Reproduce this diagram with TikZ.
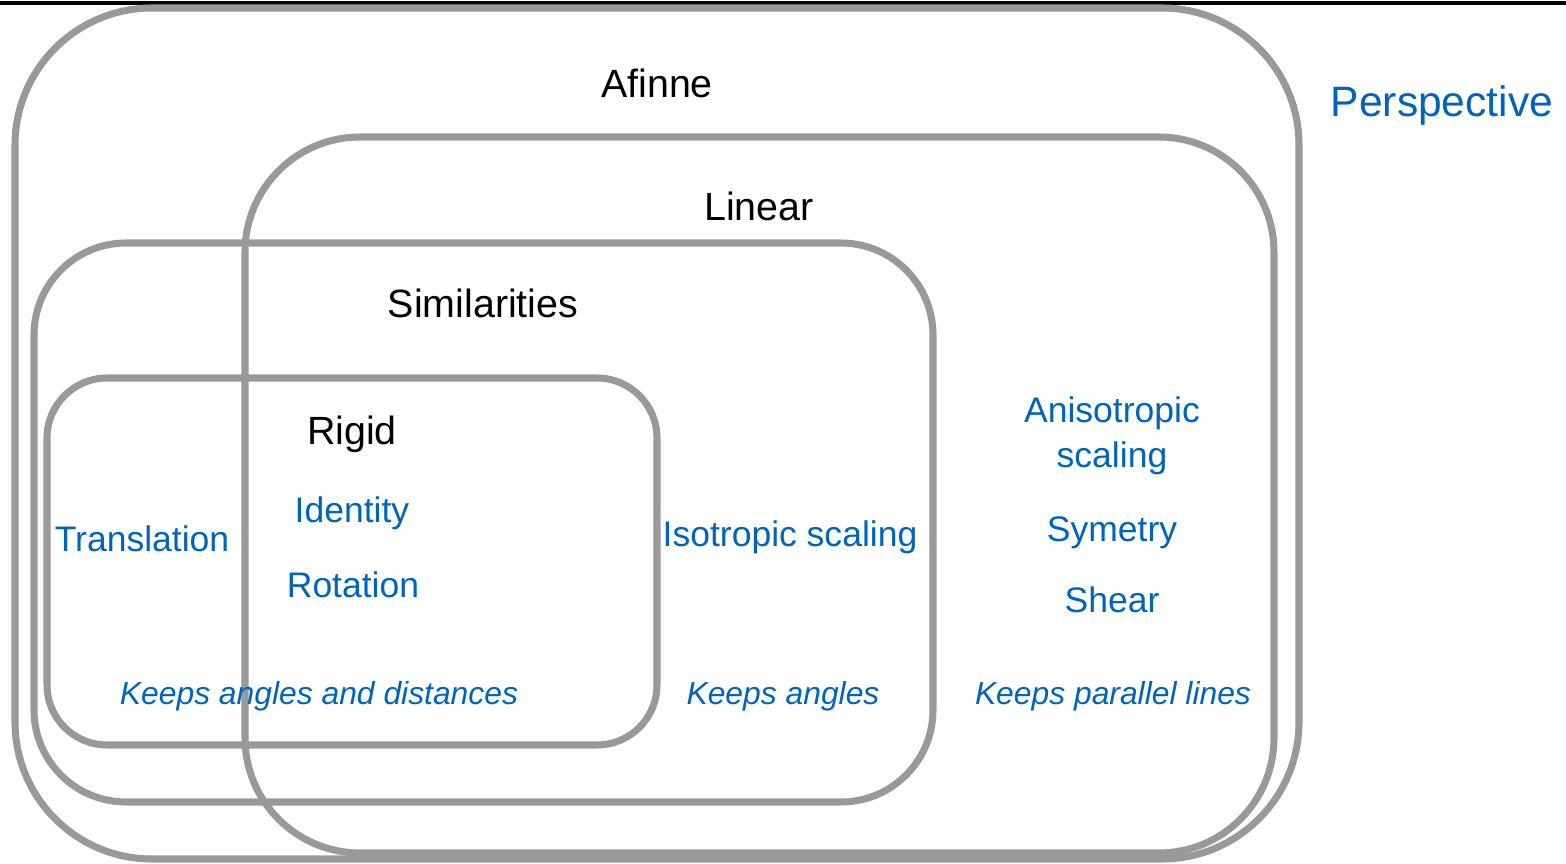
\documentclass[tikz,border=0pt]{standalone}
\usepackage{fontspec}
\setmainfont{Liberation Sans}
\usepackage{xcolor}
\definecolor{boxgray}{RGB}{153,153,153}
\definecolor{itemblue}{RGB}{0,99,188}

\begin{document}
\begin{tikzpicture}[x=0.01cm, y=-0.01cm,
	box/.style={draw=boxgray, line width=2pt},
	title/.style={anchor=base, font=\fontsize{11.2}{13}\selectfont},
	item/.style={anchor=base, text=itemblue, font=\fontsize{10.1}{12.8}\selectfont},
	note/.style={anchor=base, text=itemblue, font=\fontsize{9.05}{11}\selectfont\itshape}]
	\useasboundingbox (0,0) rectangle (1566,864);
	\draw[line width=1pt] (0,3) -- (1566,3);
	\draw[box, rounded corners=1.37cm] (15,8) rectangle (1299,859);
	\draw[box, rounded corners=1.15cm] (245,137) rectangle (1274,853);
	\draw[box, rounded corners=0.92cm] (34,243) rectangle (933,802);
	\draw[box, rounded corners=0.6cm] (47,378) rectangle (657,745);
	\node[title] (affine) at (657,98) {Afinne};
	\node[title] (linear) at (759,221) {Linear};
	\node[title] (similar) at (483,318) {Similarities};
	\node[title] (rigid) at (352,445) {Rigid};
	\node[item, font=\fontsize{12.1}{14}\selectfont] (persp) at (1442,117) {Perspective};
	\node[item] (transl) at (142,552) {Translation};
	\node[item] (ident) at (352,523) {Identity};
	\node[item] (rot) at (353,597) {Rotation};
	\node[item] (iso) at (790,547) {Isotropic scaling};
	\node[item, anchor=center, align=center] (aniso) at (1112,436) {Anisotropic\\scaling};
	\node[item] (sym) at (1112,542) {Symetry};
	\node[item] (shear) at (1112,613) {Shear};
	\node[note] (keepdist) at (319,705) {Keeps angles and distances};
	\node[note] (keepang) at (783,705) {Keeps angles};
	\node[note] (keeppar) at (1113,705) {Keeps parallel lines};
\end{tikzpicture}
\end{document}
